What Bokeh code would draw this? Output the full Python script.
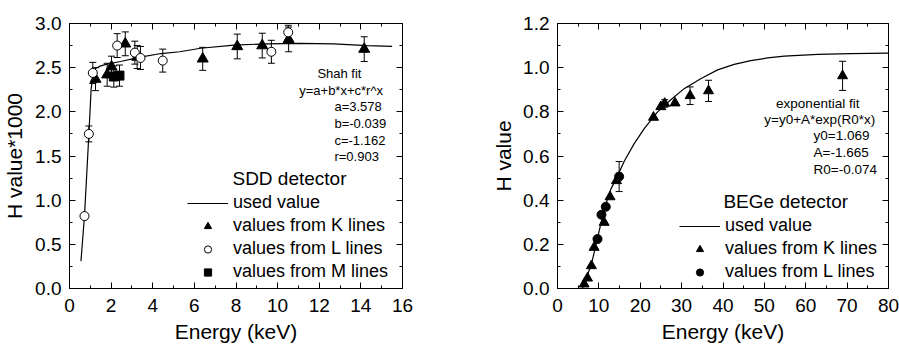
import numpy as np
from bokeh.plotting import figure
from bokeh.models import (Range1d, SingleIntervalTicker, FixedTicker, LinearAxis, Whisker, TeeHead,
                          ColumnDataSource, Legend, LegendItem, Label, PrintfTickFormatter,
                          CustomJSTickFormatter)
from bokeh.layouts import row
from bokeh.embed import file_html
from bokeh.resources import INLINE

FONT = "Liberation Sans"

# ---------------- SDD detector (left) ----------------
sdd_k_x = [1.25, 1.81, 2.02, 2.68, 3.25, 6.40, 8.06, 9.26, 10.53, 14.16]
sdd_k_y = [2.37, 2.42, 2.51, 2.77, 2.62, 2.60, 2.74, 2.75, 2.82, 2.71]
sdd_k_e = [0.13, 0.13, 0.12, 0.135, 0.13, 0.13, 0.14, 0.14, 0.14, 0.14]

sdd_l_x = [0.72, 0.93, 1.12, 2.29, 3.14, 3.41, 4.48, 9.70, 10.51]
sdd_l_y = [0.82, 1.75, 2.44, 2.75, 2.67, 2.61, 2.58, 2.68, 2.90]
sdd_l_e = [0.03, 0.09, 0.12, 0.135, 0.13, 0.13, 0.13, 0.13, 0.08]

sdd_m_x = [2.13, 2.40]
sdd_m_y = [2.40, 2.41]
sdd_m_e = [0.12, 0.12]

sdd_fit_x = [0.55, 0.72, 0.93, 1.04, 1.14, 1.25, 1.5, 1.8, 2.45, 3.4, 4.4, 5.3, 6.3,
             7.9, 9.5, 11.1, 12.7, 14.3, 15.5]
sdd_fit_y = [0.31, 0.82, 1.74, 2.26, 2.43, 2.49, 2.52, 2.54, 2.57, 2.62, 2.66, 2.68, 2.72,
             2.755, 2.77, 2.775, 2.77, 2.75, 2.74]

sdd_fit_text = ["a=3.578", "b=-0.039", "c=-1.162", "r=0.903"]
sdd_y_ticks = [0.0, 0.5, 1.0, 1.5, 2.0, 2.5, 3.0]
sdd_y_minor = [0.25, 0.75, 1.25, 1.75, 2.25, 2.75]

# ---------------- BEGe detector (right) ----------------
bege_k_x = [6.43, 7.25, 8.2, 8.85, 11.27, 12.7, 14.26, 23.2, 24.97, 25.9, 28.4, 32.05, 36.5, 68.9]
bege_k_y = [0.02, 0.047, 0.103, 0.186, 0.299, 0.415, 0.488, 0.775, 0.823, 0.838, 0.84, 0.873, 0.895, 0.963]
bege_k_e = [0, 0, 0, 0, 0, 0, 0, 0, 0, 0.017, 0, 0.04, 0.048, 0.066]

bege_l_x = [9.67, 10.63, 11.67, 14.9]
bege_l_y = [0.224, 0.334, 0.37, 0.507]
bege_l_e = [0, 0, 0, 0.068]

bege_fit_x = [6.0, 7.0, 8.2, 9.7, 11.3, 12.9, 14.5, 16.1, 18.5, 21.0, 24.2, 27.4, 30.6,
              34.6, 38.7, 42.7, 46.7, 50.8, 54.8, 62.9, 70.9, 80.0]
bege_fit_y = [0.0, 0.05, 0.11, 0.23, 0.36, 0.45, 0.51, 0.575, 0.655, 0.725, 0.80, 0.855, 0.905,
              0.95, 0.99, 1.015, 1.032, 1.044, 1.052, 1.06, 1.064, 1.066]

bege_fit_text = ["y0=1.069", "A=-1.665", "R0=-0.074"]
bege_y_ticks = [0.0, 0.2, 0.4, 0.6, 0.8, 1.0, 1.2]
bege_y_minor = [0.1, 0.3, 0.5, 0.7, 0.9, 1.1]

HEIGHT = 349


def style_axis(ax, ticker, show_labels=True, fmt=None):
    ax.ticker = ticker
    ax.axis_line_color = "black"
    ax.axis_line_width = 1
    ax.major_tick_line_color = "black"
    ax.minor_tick_line_color = "black"
    ax.major_tick_in = 6
    ax.major_tick_out = 0
    ax.minor_tick_in = 3
    ax.minor_tick_out = 0
    ax.major_label_text_font = FONT
    ax.major_label_text_color = "black"
    ax.axis_label_text_font = FONT
    ax.axis_label_text_font_style = "normal"
    ax.axis_label_text_font_size = "21px"
    ax.axis_label_text_color = "black"
    ax.major_label_text_font_size = "19px"
    if show_labels:
        ax.major_label_standoff = 8
        if fmt is not None:
            ax.formatter = fmt
    else:
        ax.formatter = CustomJSTickFormatter(code="return ''")
        ax.major_label_standoff = 0


def make_fig(width, xr, yr, xint, yticks, yminor, bl, br, bt, ylab_standoff, xlabel, ylabel):
    p = figure(width=width, height=HEIGHT, x_range=Range1d(*xr), y_range=Range1d(*yr),
               output_backend="svg", toolbar_location=None,
               min_border_left=bl, min_border_right=br, min_border_top=bt, min_border_bottom=61)
    p.grid.visible = False
    p.outline_line_color = "black"
    p.background_fill_color = "white"
    p.border_fill_color = "white"
    style_axis(p.xaxis[0], SingleIntervalTicker(interval=xint, num_minor_ticks=2))
    style_axis(p.yaxis[0], FixedTicker(ticks=yticks, minor_ticks=yminor),
               fmt=PrintfTickFormatter(format="%.1f"))
    p.xaxis[0].axis_label = xlabel
    p.yaxis[0].axis_label = ylabel
    p.xaxis[0].major_label_standoff = 10
    p.xaxis[0].axis_label_standoff = 5
    p.yaxis[0].axis_label_standoff = ylab_standoff
    top = LinearAxis()
    style_axis(top, SingleIntervalTicker(interval=xint, num_minor_ticks=2), show_labels=False)
    right = LinearAxis()
    style_axis(right, FixedTicker(ticks=yticks, minor_ticks=yminor), show_labels=False)
    p.add_layout(top, "above")
    p.add_layout(right, "right")
    return p


def errbars(p, xs, ys, es):
    xs = np.asarray(xs, float); ys = np.asarray(ys, float); es = np.asarray(es, float)
    m = es > 0
    src = ColumnDataSource(dict(x=xs[m], upper=ys[m] + es[m], lower=ys[m] - es[m]))
    w = Whisker(base="x", upper="upper", lower="lower", source=src, dimension="height",
                line_color="black", line_width=1, level="underlay",
                upper_head=TeeHead(size=7, line_color="black", line_width=1),
                lower_head=TeeHead(size=7, line_color="black", line_width=1))
    p.add_layout(w)


def make_legend(p, items, loc):
    leg = Legend(items=items, location=loc, orientation="vertical",
                 label_text_font=FONT, label_text_font_size="18px", label_text_color="black",
                 glyph_width=41, glyph_height=18, label_height=23, spacing=0,
                 padding=0, margin=0, label_standoff=5,
                 border_line_color=None, background_fill_alpha=0)
    p.add_layout(leg)


# ---------- left ----------
p1 = make_fig(450, (0, 16), (0, 3), 2, sdd_y_ticks, sdd_y_minor, 69, 48, 21, 6,
              "Energy (keV)", "H value*1000")
errbars(p1, sdd_k_x, sdd_k_y, sdd_k_e)
errbars(p1, sdd_l_x, sdd_l_y, sdd_l_e)
errbars(p1, sdd_m_x, sdd_m_y, sdd_m_e)
l1 = p1.line(sdd_fit_x, sdd_fit_y, line_color="black", line_width=1.2)
k1 = p1.scatter(sdd_k_x, sdd_k_y, marker="triangle", size=11, fill_color="black", line_color="black")
c1 = p1.scatter(sdd_l_x, sdd_l_y, marker="circle", size=9, fill_color="white", line_color="black", line_width=1)
m1 = p1.scatter(sdd_m_x, sdd_m_y, marker="square", size=9, fill_color="black", line_color="black")

p1.add_layout(Label(x=12.97, y=2.43, text="Shah fit", text_align="center", text_baseline="middle",
                    text_font=FONT, text_font_size="13px", text_color="black"))
p1.add_layout(Label(x=13.05, y=2.236, text="y=a+b*x+c*r^x", text_align="center", text_baseline="middle",
                    text_font=FONT, text_font_size="13px", text_color="black"))
for t, yy in zip(sdd_fit_text, [2.056, 1.865, 1.674, 1.494]):
    p1.add_layout(Label(x=12.73, y=yy, text=t, text_align="left", text_baseline="middle",
                        text_font=FONT, text_font_size="13px", text_color="black"))
p1.add_layout(Label(x=7.83, y=1.24, text="SDD detector", text_align="left", text_baseline="middle",
                    text_font=FONT, text_font_size="19px", text_color="black"))
make_legend(p1, [LegendItem(label="used value", renderers=[l1]),
                 LegendItem(label="values from K lines", renderers=[k1]),
                 LegendItem(label="values from L lines", renderers=[c1]),
                 LegendItem(label="values from M lines", renderers=[m1])], (118, 5))

# ---------- right ----------
p2 = make_fig(449, (0, 80), (0, 1.2), 10, bege_y_ticks, bege_y_minor, 107, 11, 23, 5,
              "Energy (keV)", "H value")
errbars(p2, bege_k_x, bege_k_y, bege_k_e)
errbars(p2, bege_l_x, bege_l_y, bege_l_e)
l2 = p2.line(bege_fit_x, bege_fit_y, line_color="black", line_width=1.2)
k2 = p2.scatter(bege_k_x, bege_k_y, marker="triangle", size=10, fill_color="black", line_color="black")
c2 = p2.scatter(bege_l_x, bege_l_y, marker="circle", size=9, fill_color="black", line_color="black")

p2.add_layout(Label(x=62.9, y=0.836, text="exponential fit", text_align="center", text_baseline="middle",
                    text_font=FONT, text_font_size="13.5px", text_color="black"))
p2.add_layout(Label(x=63.4, y=0.764, text="y=y0+A*exp(R0*x)", text_align="center", text_baseline="middle",
                    text_font=FONT, text_font_size="13.5px", text_color="black"))
for t, yy in zip(bege_fit_text, [0.692, 0.615, 0.538]):
    p2.add_layout(Label(x=61.9, y=yy, text=t, text_align="left", text_baseline="middle",
                        text_font=FONT, text_font_size="13.5px", text_color="black"))
p2.add_layout(Label(x=40.1, y=0.393, text="BEGe detector", text_align="left", text_baseline="middle",
                    text_font=FONT, text_font_size="19px", text_color="black"))
make_legend(p2, [LegendItem(label="used value", renderers=[l2]),
                 LegendItem(label="values from K lines", renderers=[k2]),
                 LegendItem(label="values from L lines", renderers=[c2])], (122, 5))

layout = row(p1, p2)
open("out.html", "w").write(file_html(layout, INLINE))
